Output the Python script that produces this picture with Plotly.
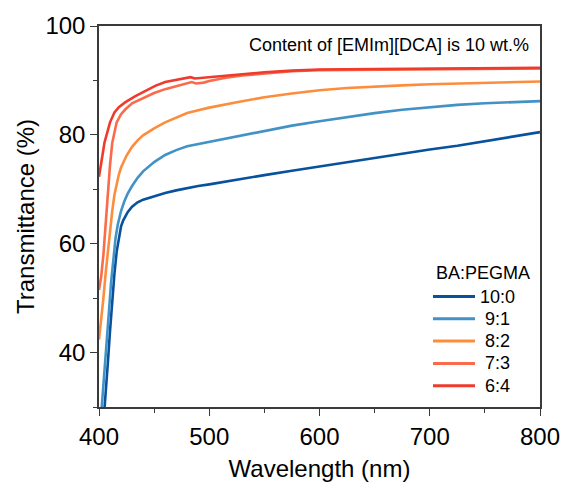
import plotly.graph_objects as go

# Transmittance spectra of BA:PEGMA films, [EMIm][DCA] fixed at 10 wt.%
labels = ["10:0", "9:1", "8:2", "7:3", "6:4"]
colors = ["#08519c", "#4292c6", "#fd8d3c", "#fb6a4a", "#ef3b2c"]

wl_10_0 = [404, 406, 408, 410, 412, 414, 416, 418, 420, 422, 426, 430, 435, 440, 450, 460, 470, 480,
           490, 500, 525, 550, 575, 600, 625, 650, 675, 700, 725, 750, 775, 800]
t_10_0 = [27.0, 32.0, 38.0, 44.0, 49.5, 54.5, 58.5, 61.3, 63.2, 64.3, 65.8, 66.8, 67.6, 68.1, 68.75, 69.3,
          69.8, 70.25, 70.6, 70.9, 71.8, 72.6, 73.4, 74.2, 74.9, 75.7, 76.5, 77.3, 78.0, 78.8, 79.6, 80.5]

wl_9_1 = [401, 403, 405, 407, 409, 411, 413, 415, 417, 420, 423, 426, 430, 435, 440, 450, 460, 470,
          480, 490, 500, 525, 550, 575, 600, 625, 650, 675, 700, 725, 750, 775, 800]
t_9_1 = [26.0, 31.0, 36.5, 42.0, 47.5, 53.0, 57.5, 61.0, 63.5, 66.0, 67.8, 69.2, 70.6, 72.1, 73.3, 75.0,
         76.3, 77.2, 77.9, 78.3, 78.8, 79.8, 80.8, 81.7, 82.5, 83.3, 84.0, 84.6, 85.1, 85.5, 85.8, 86.0, 86.2]

wl_8_2 = [400, 402, 404, 406, 408, 410, 412, 414, 416, 418, 420, 425, 430, 435, 440, 450, 460, 470,
          480, 490, 500, 525, 550, 575, 600, 625, 650, 675, 700, 725, 750, 775, 800]
t_8_2 = [42.4, 46.0, 50.0, 54.5, 58.5, 62.5, 66.0, 69.0, 71.0, 72.7, 74.0, 76.2, 77.8, 79.0, 79.9, 81.2,
         82.3, 83.2, 84.0, 84.5, 85.0, 86.0, 86.9, 87.6, 88.2, 88.6, 88.9, 89.1, 89.3, 89.4, 89.5, 89.6, 89.8]

wl_7_3 = [400, 402, 404, 406, 408, 410, 412, 414, 416, 420, 424, 430, 440, 450, 460, 470, 480, 484,
          488, 495, 500, 515, 530, 550, 575, 600, 650, 700, 750, 800]
t_7_3 = [51.5, 54.0, 58.0, 64.0, 70.5, 74.5, 78.5, 80.8, 82.3, 83.8, 84.7, 85.8, 86.8, 87.7, 88.4, 89.0,
         89.5, 89.7, 89.45, 89.6, 89.9, 90.5, 90.9, 91.3, 91.7, 91.9, 92.0, 92.1, 92.1, 92.2]

wl_6_4 = [400, 402, 405, 410, 414, 418, 424, 433, 442, 451, 460, 470, 479, 483, 487, 492, 500, 525,
          550, 575, 600, 650, 700, 750, 800]
t_6_4 = [72.3, 75.0, 78.6, 82.3, 84.1, 85.1, 86.0, 87.1, 88.0, 89.0, 89.7, 90.1, 90.5, 90.6, 90.35, 90.45,
         90.6, 91.1, 91.5, 91.8, 92.0, 92.1, 92.2, 92.2, 92.3]

series = [(wl_10_0, t_10_0), (wl_9_1, t_9_1), (wl_8_2, t_8_2), (wl_7_3, t_7_3), (wl_6_4, t_6_4)]

x_ticks = [400, 500, 600, 700, 800]
y_ticks = [40, 60, 80, 100]

FONT = "Liberation Sans, Arial, sans-serif"
AXIS_COLOR = "#3a3a3a"
W, H = 566, 489
ML, MR, MT, MB = 99, 26, 26, 82
PW, PH = W - ML - MR, H - MT - MB


def px_to_paper(px, py):
    return (px - ML) / PW, (H - MB - py) / PH


fig = go.Figure()
for (wl, tr), name, col in zip(series, labels, colors):
    fig.add_trace(go.Scatter(x=wl, y=tr, mode="lines", name=name, showlegend=False,
                             line=dict(color=col, width=2.6)))

# Legend drawn as a key block in the lower right of the plot
shapes = []
annotations = []
tx, ty = px_to_paper(434, 273)
annotations.append(dict(text="BA:PEGMA", xref="paper", yref="paper", x=tx, y=ty,
                        xanchor="left", yanchor="middle", showarrow=False,
                        font=dict(size=18, color="black")))
for i, (name, col) in enumerate(zip(labels, colors)):
    row_y = 296.5 + i * 22.3
    x0, y0 = px_to_paper(433, row_y)
    x1, _ = px_to_paper(475, row_y)
    shapes.append(dict(type="line", xref="paper", yref="paper", x0=x0, x1=x1, y0=y0, y1=y0,
                       line=dict(color=col, width=3)))
    lx, _ = px_to_paper(497, row_y)
    annotations.append(dict(text=name, xref="paper", yref="paper", x=lx, y=y0,
                            xanchor="center", yanchor="middle", showarrow=False,
                            font=dict(size=18, color="black")))

nx, ny = px_to_paper(531, 45)
annotations.append(dict(text="Content of [EMIm][DCA] is 10 wt.%", xref="paper", yref="paper",
                        x=nx, y=ny, xanchor="right", yanchor="middle", showarrow=False,
                        font=dict(size=18, color="black")))

fig.update_layout(
    width=W, height=H,
    margin=dict(l=ML, r=MR, t=MT, b=MB),
    paper_bgcolor="white", plot_bgcolor="white",
    font=dict(family=FONT, color="black"),
    showlegend=False,
    shapes=shapes,
    annotations=annotations,
)

fig.update_xaxes(
    range=[400, 800], tickvals=x_ticks, automargin=False,
    ticks="outside", ticklen=7, tickwidth=1.3, tickcolor=AXIS_COLOR,
    minor=dict(dtick=50, ticks="outside", ticklen=4, tickwidth=1.3, tickcolor=AXIS_COLOR),
    showline=True, linecolor=AXIS_COLOR, linewidth=1.5, mirror=True,
    showgrid=False, zeroline=False,
    tickfont=dict(size=24),
    title=dict(text="Wavelength (nm)", font=dict(size=24), standoff=12),
)
fig.update_yaxes(
    range=[30, 100], tickvals=y_ticks, automargin=False,
    ticks="outside", ticklen=7, tickwidth=1.3, tickcolor=AXIS_COLOR,
    minor=dict(tickvals=[30, 50, 70, 90], ticks="outside", ticklen=4, tickwidth=1.3, tickcolor=AXIS_COLOR),
    showline=True, linecolor=AXIS_COLOR, linewidth=1.5, mirror=True,
    showgrid=False, zeroline=False,
    tickfont=dict(size=24),
    title=dict(text="Transmittance (%)", font=dict(size=24), standoff=4),
)

fig.write_html("out.html")
